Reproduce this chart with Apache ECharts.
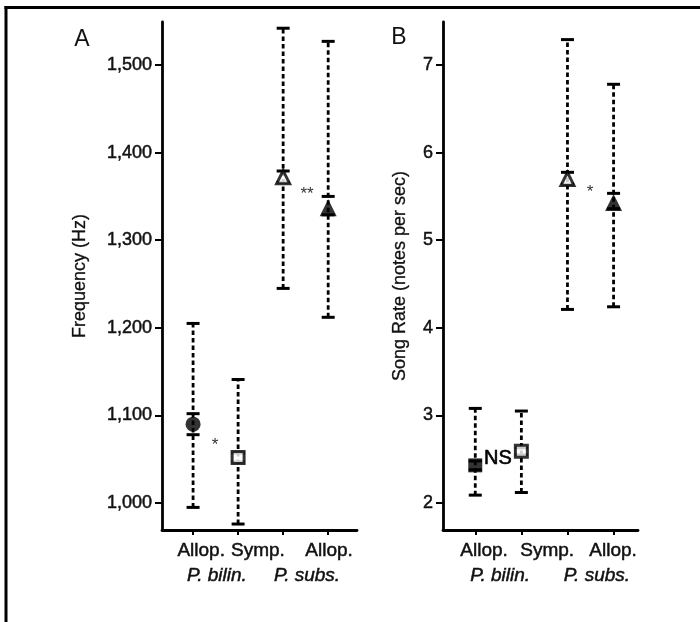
<!DOCTYPE html>
<html>
<head>
<meta charset="utf-8">
<script src="https://cdn.jsdelivr.net/npm/echarts@6/dist/echarts.min.js"></script>
<style>
html,body{margin:0;padding:0;background:#fff;}
#c{width:700px;height:622px;}
</style>
</head>
<body>
<div id="c"></div>
<script>
// ---- data ----
const groups = ['P. bilin. Allop.', 'P. bilin. Symp.', 'P. subs. Symp.', 'P. subs. Allop.'];
// Panel A: Frequency (Hz)
const freqMean = [1090, 1052, 1372, 1337];
const freqLow  = [995, 976, 1245, 1212];
const freqHigh = [1205, 1141, 1542, 1527];
const freqSeLow  = [1078, 1047, 1366, 1329];
const freqSeHigh = [1102, 1057, 1379, 1350];
// Panel B: Song rate (notes per sec)
const rateMean = [2.43, 2.59, 5.70, 5.43];
const rateLow  = [2.09, 2.12, 4.21, 4.24];
const rateHigh = [3.08, 3.05, 7.29, 6.78];
const rateSeLow  = [2.38, 2.55, 5.64, 5.36];
const rateSeHigh = [2.48, 2.63, 5.775, 5.535];
// tick labels
const freqTicks = [1000, 1100, 1200, 1300, 1400, 1500];
const rateTicks = [2, 3, 4, 5, 6, 7];
// significance marks: [x between groups, y value, text]
const sigA = [[1.49, 1066, '*'], [3.53, 1352, '**']];
const sigB = [[1.49, 2.51, 'NS'], [3.49, 5.55, '*']];
// x-axis labels
const xTop = ['Allop.', 'Symp.', 'Allop.'];
const xBottom = ['P. bilin.', 'P. subs.'];
const symbolsA = ['circle', 'rect', 'triangle', 'triangle'];
const symbolsB = ['rect', 'rect', 'triangle', 'triangle'];
const filled = [true, false, false, true];

const FONT = '"Liberation Sans", Arial, Helvetica, sans-serif';
const TB = {textBorderColor: '#111', textBorderWidth: 0.5};
const GS = {stroke: '#111', lineWidth: 0.5};
const chart = echarts.init(document.getElementById('c'));

function barData(low, high, seLow, seHigh) {
  return groups.map((g, i) => [i + 1, low[i], high[i], seLow[i], seHigh[i]]);
}
function renderBar(params, api) {
  const x = api.value(0);
  const pLo = api.coord([x, api.value(1)]);
  const pHi = api.coord([x, api.value(2)]);
  const pSl = api.coord([x, api.value(3)]);
  const pSh = api.coord([x, api.value(4)]);
  const hw = 6.5;
  const solid = {stroke: '#000', lineWidth: 3};
  return {
    type: 'group',
    children: [
      {type: 'line', shape: {x1: pLo[0], y1: pLo[1], x2: pHi[0], y2: pHi[1]},
       style: {stroke: '#000', lineWidth: 2.8, lineDash: [4.5, 3]}},
      {type: 'line', shape: {x1: pLo[0] - hw, y1: pLo[1], x2: pLo[0] + hw, y2: pLo[1]}, style: solid},
      {type: 'line', shape: {x1: pHi[0] - hw, y1: pHi[1], x2: pHi[0] + hw, y2: pHi[1]}, style: solid},
      {type: 'line', shape: {x1: pSl[0] - hw, y1: pSl[1], x2: pSl[0] + hw, y2: pSl[1]}, style: solid},
      {type: 'line', shape: {x1: pSh[0] - hw, y1: pSh[1], x2: pSh[0] + hw, y2: pSh[1]}, style: solid}
    ]
  };
}
const sigSource = {};
function renderSig(params, api) {
  const p = api.coord([api.value(0), api.value(1)]);
  const txt = sigSource[params.seriesIndex][params.dataIndex][2];
  const isStar = txt.indexOf('*') === 0;
  return {
    type: 'text', x: p[0], y: p[1],
    style: Object.assign({text: txt, fontFamily: FONT, fontSize: isStar ? 17 : 20,
      fill: isStar ? '#333' : '#000', align: 'center', verticalAlign: 'middle'},
      isStar ? {} : {stroke: '#000', lineWidth: 0.6})
  };
}
function markerData(mean, symbols) {
  return groups.map((g, i) => {
    const isTri = symbols[i] === 'triangle';
    const isCirc = symbols[i] === 'circle';
    let size = filled[i] ? (isTri ? 17 : 14) : (isTri ? 13 : 12);
    if (isCirc) size = 15;
    return {
      value: [i + 1, mean[i]],
      symbol: symbols[i],
      symbolSize: size,
      itemStyle: {
        color: filled[i] ? '#000' : '#fff',
        borderColor: '#000',
        borderWidth: filled[i] ? 0 : 3
      }
    };
  });
}

const yAxisCommon = {
  type: 'value',
  axisLine: {show: true, lineStyle: {color: '#000', width: 2.8}},
  axisTick: {show: true, length: 7, lineStyle: {color: '#000', width: 2}},
  splitLine: {show: false},
  axisLabel: Object.assign({color: '#111', fontSize: 18, fontFamily: FONT, margin: 10}, TB),
  nameLocation: 'middle',
  nameTextStyle: Object.assign({color: '#111', fontSize: 18, fontFamily: FONT}, TB, {textBorderWidth: 0.3})
};
const xAxisCommon = {
  type: 'value',
  axisLine: {show: true, onZero: false, lineStyle: {color: '#000', width: 2.8}},
  axisTick: {show: true, length: 5, lineStyle: {color: '#000', width: 2}, customValues: [1, 2, 3, 4]},
  axisLabel: {show: false},
  splitLine: {show: false}
};

sigSource[4] = sigA;
sigSource[5] = sigB;

chart.setOption({
  animation: false,
  backgroundColor: '#fff',
  grid: [
    {left: 162, top: 22, width: 195, height: 508},
    {left: 443, top: 22, width: 195, height: 508}
  ],
  xAxis: [
    Object.assign({}, xAxisCommon, {gridIndex: 0, min: 0.31, max: 4.64}),
    Object.assign({}, xAxisCommon, {gridIndex: 1, min: 0.3, max: 4.53})
  ],
  yAxis: [
    Object.assign({}, yAxisCommon, {
      gridIndex: 0, min: 969.2, max: 1549.1,
      name: 'Frequency (Hz)', nameGap: 73,
      axisTick: Object.assign({}, yAxisCommon.axisTick, {customValues: freqTicks}),
      axisLabel: Object.assign({}, yAxisCommon.axisLabel, {
        customValues: freqTicks,
        formatter: v => Number(v).toLocaleString('en-US')
      })
    }),
    Object.assign({}, yAxisCommon, {
      gridIndex: 1, min: 1.692, max: 7.491,
      name: 'Song Rate (notes per sec)', nameGap: 34,
      axisTick: Object.assign({}, yAxisCommon.axisTick, {customValues: rateTicks}),
      axisLabel: Object.assign({}, yAxisCommon.axisLabel, {
        customValues: rateTicks,
        formatter: v => String(v)
      })
    })
  ],
  series: [
    {type: 'custom', xAxisIndex: 0, yAxisIndex: 0, renderItem: renderBar,
     data: barData(freqLow, freqHigh, freqSeLow, freqSeHigh), z: 2},
    {type: 'custom', xAxisIndex: 1, yAxisIndex: 1, renderItem: renderBar,
     data: barData(rateLow, rateHigh, rateSeLow, rateSeHigh), z: 2},
    {type: 'scatter', xAxisIndex: 0, yAxisIndex: 0, data: markerData(freqMean, symbolsA), z: 5},
    {type: 'scatter', xAxisIndex: 1, yAxisIndex: 1, data: markerData(rateMean, symbolsB), z: 5},
    {type: 'custom', xAxisIndex: 0, yAxisIndex: 0, renderItem: renderSig, z: 6,
     data: sigA.map(d => [d[0], d[1]])},
    {type: 'custom', xAxisIndex: 1, yAxisIndex: 1, renderItem: renderSig, z: 6,
     data: sigB.map(d => [d[0], d[1]])}
  ]
});

// x-axis category labels positioned via axis scales
function px(gi, x) { return chart.convertToPixel({xAxisIndex: gi}, x); }
const topPosA = [1.18, 2.44, 4.02], topPosB = [1.19, 2.56, 3.99];
const botPosA = [1.53, 3.53], botPosB = [1.54, 3.64];
const graphics = [
  {type: 'line', shape: {x1: 4.5, y1: 7.5, x2: 700, y2: 7.5}, style: {stroke: '#000', lineWidth: 3}},
  {type: 'line', shape: {x1: 6, y1: 6, x2: 6, y2: 622}, style: {stroke: '#000', lineWidth: 3}},
  {type: 'text', x: 82, y: 40, style: {text: 'A', fontSize: 23, fontFamily: FONT, fill: '#111', align: 'center', verticalAlign: 'middle'}},
  {type: 'text', x: 399, y: 38, style: {text: 'B', fontSize: 23, fontFamily: FONT, fill: '#111', align: 'center', verticalAlign: 'middle'}}
];
[[0, topPosA, botPosA], [1, topPosB, botPosB]].forEach(([gi, tp, bp]) => {
  xTop.forEach((t, i) => graphics.push({type: 'text', x: px(gi, tp[i]), y: 551,
    style: Object.assign({text: t, fontSize: 19, fontFamily: FONT, fill: '#111', align: 'center', verticalAlign: 'middle'}, GS)}));
  xBottom.forEach((t, i) => graphics.push({type: 'text', x: px(gi, bp[i]), y: 576,
    style: Object.assign({text: t, fontSize: 19, fontStyle: 'italic', fontFamily: FONT, fill: '#111', align: 'center', verticalAlign: 'middle'}, GS)}));
});
chart.setOption({graphic: graphics});
</script>
</body>
</html>
